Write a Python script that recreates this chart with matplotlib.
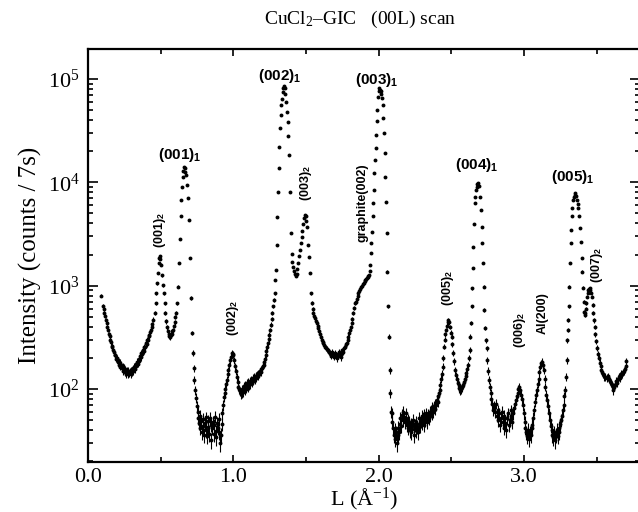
""" CuCl2-GIC (00L) scan: intensity vs L on a log scale. """

import numpy as np
import matplotlib
matplotlib.use("Agg")
import matplotlib.pyplot as plt
from matplotlib.ticker import MultipleLocator, FixedLocator, FormatStrFormatter, LogLocator

# --- scan data (L in 1/A, counts per 7 s) ---
L_start = [0.092, 0.103, 0.108, 0.113, 0.118, 0.123, 0.128, 0.133, 0.138, 0.143, 0.148, 0.153, 0.158, 0.163,
           0.168, 0.173, 0.178, 0.183, 0.188, 0.193, 0.198, 0.203, 0.208, 0.213, 0.218, 0.223, 0.228, 0.233,
           0.238, 0.243, 0.248, 0.253, 0.258, 0.263, 0.268, 0.273, 0.278, 0.283, 0.288, 0.293, 0.298, 0.303,
           0.308, 0.313, 0.318, 0.323, 0.328, 0.333, 0.338, 0.343, 0.348, 0.353, 0.358, 0.363, 0.368, 0.373,
           0.378, 0.383, 0.388, 0.393, 0.398, 0.403, 0.408, 0.413, 0.418, 0.423, 0.428, 0.433, 0.438, 0.443]
I_start = [800, 640, 590, 548, 505, 462, 432, 398, 372, 338, 322, 296, 282, 262, 252, 236, 230, 214, 212, 196,
           198, 184, 190, 172, 180, 164, 172, 158, 166, 150, 160, 146, 156, 140, 152, 138, 150, 142, 148, 139,
           152, 146, 158, 150, 164, 156, 174, 166, 184, 176, 196, 188, 208, 202, 222, 218, 238, 232, 256, 252,
           276, 272, 298, 300, 322, 332, 356, 372, 398, 425]

L_001 = [0.450, 0.459, 0.465, 0.470, 0.476, 0.482, 0.486, 0.490, 0.494, 0.498, 0.503, 0.509, 0.515, 0.521,
         0.527, 0.533, 0.539, 0.545, 0.550, 0.555, 0.560, 0.565, 0.570, 0.575, 0.580, 0.585, 0.590, 0.596,
         0.602, 0.608, 0.614, 0.619, 0.624, 0.631, 0.638, 0.642, 0.647, 0.652, 0.657, 0.661, 0.665, 0.670,
         0.677, 0.683, 0.690, 0.697, 0.703, 0.709, 0.715, 0.721, 0.726, 0.732, 0.738, 0.744]
I_001 = [470, 540, 675, 845, 1050, 1320, 1650, 1850, 1920, 1820, 1600, 1260, 1010, 845, 675, 540, 450, 395,
         360, 340, 325, 318, 335, 342, 360, 372, 405, 440, 495, 540, 675, 980, 1650, 2800, 4670, 6750, 9100,
         11300, 13000, 14100, 13600, 12500, 11700, 9440, 7040, 4270, 1840, 760, 348, 221, 158, 122, 98, 82]

L_floor1 = [0.749, 0.754, 0.759, 0.764, 0.769, 0.774, 0.779, 0.784, 0.789, 0.794, 0.799, 0.804, 0.809, 0.814,
            0.819, 0.824, 0.829, 0.834, 0.839, 0.844, 0.849, 0.854, 0.859, 0.864, 0.869, 0.874, 0.879, 0.884,
            0.889, 0.894, 0.899, 0.904, 0.909, 0.914, 0.919, 0.924, 0.929, 0.934]
I_floor1 = [68, 60, 52, 47, 55, 42, 49, 38, 51, 44, 36, 47, 53, 40, 35, 49, 43, 37, 52, 45, 32, 42, 48, 37,
            45, 54, 39, 34, 47, 42, 51, 38, 30, 36, 46, 58, 70, 84]

L_002 = [0.940, 0.945, 0.950, 0.955, 0.960, 0.966, 0.972, 0.977, 0.983, 0.989, 0.995, 1.000, 1.006, 1.012,
         1.018, 1.023, 1.029, 1.034, 1.040, 1.046, 1.052, 1.058,
         1.063, 1.068, 1.073, 1.078, 1.083, 1.088, 1.093, 1.098, 1.103, 1.108, 1.113, 1.118, 1.123, 1.128,
         1.133, 1.138, 1.143, 1.148, 1.153, 1.158, 1.163, 1.168, 1.173, 1.178, 1.183, 1.188, 1.193, 1.198,
         1.203, 1.208, 1.213, 1.218, 1.223, 1.228, 1.233, 1.238, 1.243, 1.248, 1.253, 1.258, 1.263, 1.268,
         1.273, 1.278]
I_002 = [92, 100, 112, 122, 138, 152, 170, 190, 206, 221, 216, 213, 190, 165, 148, 131, 118, 105, 99, 95, 90,
         92,
         100, 94, 106, 98, 110, 101, 114, 104, 117, 108, 120, 111, 123, 115, 127, 119, 131, 124, 134, 128,
         138, 133, 142, 138, 148, 146, 156, 158, 168, 172, 184, 196, 215, 232, 254, 276, 302, 335, 372, 420,
         478, 545, 630, 725]

L_peak2 = [1.284, 1.289, 1.294, 1.299, 1.303, 1.308, 1.312, 1.316, 1.320, 1.325, 1.330, 1.335, 1.340, 1.345,
           1.349, 1.353, 1.358, 1.363, 1.368, 1.373, 1.379, 1.385, 1.390, 1.395, 1.401, 1.407, 1.413, 1.419,
           1.425, 1.430, 1.436, 1.441, 1.447, 1.453, 1.459, 1.464, 1.470, 1.476, 1.482, 1.487, 1.492, 1.497,
           1.503, 1.509, 1.516, 1.523, 1.528, 1.533, 1.539, 1.545]
I_peak2 = [844, 1135, 1415, 2460, 4660, 8100, 13700, 22200, 33400, 45000, 56000, 64000, 74000, 82000, 86000,
           82000, 72000, 60000, 48000, 38000, 28000, 18400, 8100, 3210, 2040, 1700, 1520, 1380, 1290, 1250,
           1290, 1450, 1650, 1950, 2230, 2600, 2960, 3400, 3980, 4500, 4850, 4700, 4200, 3720, 2460, 1910,
           1320, 844, 676, 590]

L_valley = [1.550, 1.556, 1.562, 1.568, 1.574, 1.580, 1.585, 1.591, 1.597, 1.603, 1.608, 1.614, 1.620, 1.626,
            1.631, 1.637, 1.643, 1.649, 1.655, 1.660, 1.666, 1.672, 1.677, 1.683, 1.688, 1.694, 1.700, 1.705,
            1.711, 1.717, 1.722, 1.728, 1.734, 1.740, 1.745, 1.751, 1.757, 1.763, 1.769, 1.775, 1.781, 1.786,
            1.792, 1.797, 1.803, 1.809, 1.815, 1.820, 1.826, 1.832, 1.838]
I_valley = [540, 510, 484, 455, 432, 408, 386, 362, 340, 318, 297, 286, 277, 265, 257, 250, 244, 236, 230, 226,
            222, 210, 228, 214, 220, 205, 224, 212, 198, 218, 208, 226, 214, 202, 222, 236, 228, 248, 257, 270,
            277, 300, 320, 345, 372, 400, 432, 480, 540, 610, 676]

L_peak3 = [1.843, 1.849, 1.855, 1.861, 1.867, 1.873, 1.879, 1.885, 1.891, 1.897, 1.903, 1.909, 1.915, 1.921,
           1.926, 1.930, 1.934, 1.938, 1.942, 1.946, 1.950, 1.954, 1.958, 1.963, 1.967, 1.971, 1.975, 1.979,
           1.983, 1.987, 1.992, 1.996, 2.000, 2.004, 2.008, 2.013, 2.018, 2.023, 2.028, 2.032, 2.037, 2.041,
           2.046, 2.050, 2.055, 2.060, 2.065, 2.070, 2.075, 2.080, 2.085]
I_peak3 = [700, 740, 790, 840, 880, 920, 960, 1000, 1040, 1070, 1100, 1130, 1160, 1190, 1210, 1230, 1260,
           1380, 1590, 2050, 2570, 3330, 4670, 6300, 8500, 12300, 16500, 21500, 28800, 38800, 50300, 67500,
           76000, 81000, 79000, 76000, 72000, 66000, 56000, 41600, 29900, 19100, 11350, 6500, 3200, 1365, 630,
           321, 152, 91, 60]

L_floor2 = [2.090, 2.095, 2.100, 2.105, 2.110, 2.115, 2.120, 2.125, 2.130, 2.135, 2.140, 2.145, 2.150, 2.155,
            2.160, 2.165, 2.170, 2.175, 2.180, 2.185, 2.190, 2.195, 2.200, 2.205, 2.210, 2.215, 2.220, 2.225,
            2.230, 2.235, 2.240, 2.245, 2.250, 2.255, 2.260, 2.265, 2.270, 2.275, 2.280, 2.285, 2.290, 2.295,
            2.300, 2.305, 2.310, 2.315, 2.320, 2.325, 2.330, 2.335, 2.340, 2.345, 2.350, 2.355, 2.360, 2.365,
            2.370, 2.375, 2.380, 2.385, 2.390, 2.395, 2.400, 2.405, 2.410, 2.415, 2.420]
I_floor2 = [58, 48, 42, 36, 40, 33, 38, 30, 36, 42, 38, 46, 52, 44, 56, 50, 60, 54, 48, 58, 52, 45, 50, 42, 48,
            40, 46, 38, 44, 50, 41, 36, 45, 40, 48, 43, 38, 46, 52, 44, 49, 55, 47, 52, 45, 56, 50, 58, 53, 48,
            57, 52, 60, 55, 62, 58, 66, 60, 68, 64, 72, 70, 78, 75, 85, 92, 98]

L_peak4 = [2.425, 2.430, 2.435, 2.440, 2.445, 2.450, 2.455, 2.460, 2.465, 2.470, 2.475, 2.480, 2.485, 2.490,
           2.496, 2.502, 2.508, 2.514, 2.520, 2.526, 2.532, 2.538, 2.544, 2.550, 2.556, 2.562, 2.568, 2.574,
           2.580, 2.586, 2.592, 2.598, 2.604, 2.610, 2.616, 2.622, 2.627, 2.631, 2.636, 2.641, 2.645, 2.648,
           2.652, 2.656, 2.660, 2.665, 2.670, 2.675, 2.680, 2.686, 2.692, 2.698, 2.703, 2.708, 2.713, 2.718,
           2.723, 2.728, 2.733, 2.738, 2.743, 2.748, 2.753, 2.758, 2.764, 2.770, 2.776, 2.782, 2.788]
I_peak4 = [110, 125, 140, 164, 200, 257, 300, 340, 372, 410, 440, 465, 440, 400, 350, 321, 270, 221, 185, 152,
           135, 125, 115, 108, 102, 98, 100, 104, 110, 116, 124, 132, 142, 155, 170, 200, 239, 321, 432, 630,
           945, 1480, 2390, 3990, 6300, 7250, 8500, 9100, 9600, 9800, 9300, 7250, 5400, 3710, 2570, 1650, 980,
           582, 390, 296, 247, 190, 150, 122, 105, 91, 80, 72, 63]

L_floor3 = [2.794, 2.800, 2.806, 2.812, 2.818, 2.824, 2.830, 2.836, 2.842, 2.848, 2.854, 2.860, 2.866, 2.872,
            2.878, 2.884, 2.890, 2.896, 2.902, 2.908, 2.914, 2.920, 2.926, 2.932, 2.938, 2.944, 2.950, 2.956,
            2.962, 2.968, 2.974, 2.980, 2.986, 2.992, 2.998, 3.004, 3.010, 3.016, 3.022, 3.028, 3.034, 3.040,
            3.046, 3.052, 3.058, 3.064, 3.070, 3.076, 3.082, 3.088, 3.094, 3.100, 3.106, 3.112, 3.118, 3.124,
            3.130, 3.136, 3.142, 3.148, 3.154, 3.160, 3.166, 3.172, 3.178, 3.184, 3.190, 3.196, 3.202, 3.208,
            3.214, 3.220, 3.226, 3.232, 3.238, 3.244, 3.250, 3.256, 3.262, 3.268, 3.274, 3.278, 3.283, 3.288,
            3.294]
I_floor3 = [68, 60, 72, 55, 62, 50, 58, 45, 52, 60, 48, 42, 55, 47, 40, 52, 58, 45, 50, 62, 55, 48, 58, 65, 72,
            78, 85, 92, 100, 105, 98, 88, 80, 70, 58, 48, 42, 38, 35, 40, 33, 38, 36, 42, 45, 52, 62, 75, 88, 98,
            112, 125, 145, 164, 178, 184, 170, 152, 125, 105, 88, 78, 68, 58, 50, 44, 40, 36, 34, 38, 32, 36,
            40, 35, 38, 42, 46, 50, 55, 62, 70, 85, 98, 130, 190]

L_peak5 = [3.298, 3.302, 3.306, 3.310, 3.313, 3.317, 3.322, 3.325, 3.329, 3.333, 3.337, 3.342, 3.348, 3.354,
           3.358, 3.363, 3.369, 3.375, 3.381, 3.387, 3.392, 3.397, 3.402, 3.406, 3.410, 3.414, 3.418, 3.422,
           3.426, 3.430, 3.434, 3.438, 3.442, 3.447, 3.452, 3.457, 3.462, 3.467, 3.472, 3.477, 3.482, 3.487,
           3.492, 3.497, 3.503, 3.509, 3.515, 3.521, 3.527, 3.533, 3.540, 3.547, 3.554, 3.561, 3.568, 3.575,
           3.582, 3.589, 3.596, 3.603, 3.610, 3.616, 3.622, 3.628, 3.634, 3.640, 3.646, 3.652, 3.658, 3.664,
           3.670, 3.676, 3.682, 3.688, 3.694, 3.700, 3.705]
I_peak5 = [296, 372, 465, 630, 980, 1650, 2570, 3470, 4670, 5640, 6750, 7200, 7600, 7800, 7400, 6750, 6200,
           5640, 4670, 3600, 2670, 1840, 1365, 950, 700, 560, 520, 540, 600, 680, 780, 850, 900, 930, 945, 910,
           850, 780, 650, 540, 460, 400, 340, 290, 250, 220, 200, 180, 165, 152, 145, 138, 132, 130, 128, 132,
           125, 120, 115, 110, 105, 98, 105, 110, 120, 115, 125, 130, 128, 135, 140, 138, 145, 150, 155, 165,
           185]

# peak labels: (text, L, intensity, rotation)
peak_labels = [
    (r"(001)$_\mathsf{1}$", 0.633, 18400, 0),
    (r"(002)$_\mathsf{1}$", 1.321, 107000, 0),
    (r"(003)$_\mathsf{1}$", 1.989, 98000, 0),
    (r"(004)$_\mathsf{1}$", 2.677, 14800, 0),
    (r"(005)$_\mathsf{1}$", 3.338, 11200, 0),
    (r"(001)$_\mathsf{2}$", 0.496, 3460, 90),
    (r"(002)$_\mathsf{2}$", 0.998, 487, 90),
    (r"(003)$_\mathsf{2}$", 1.500, 9860, 90),
    ("graphite(002)", 1.886, 6300, 90),
    (r"(005)$_\mathsf{2}$", 2.478, 955, 90),
    (r"(006)$_\mathsf{2}$", 2.973, 372, 90),
    ("Al(200)", 3.131, 545, 90),
    (r"(007)$_\mathsf{2}$", 3.503, 1590, 90),
]


def main():
    plt.rcParams['font.family'] = 'serif'
    plt.rcParams['font.serif'] = ['Liberation Serif']
    plt.rcParams['mathtext.fontset'] = 'custom'
    plt.rcParams['mathtext.rm'] = 'Liberation Serif'
    plt.rcParams['mathtext.it'] = 'Liberation Serif:italic'
    plt.rcParams['mathtext.bf'] = 'Liberation Serif:bold'
    plt.rcParams['mathtext.sf'] = 'Liberation Sans:bold'

    L = np.concatenate([L_start, L_001, L_floor1, L_002, L_peak2, L_valley,
                        L_peak3, L_floor2, L_peak4, L_floor3, L_peak5])
    counts = np.concatenate([I_start, I_001, I_floor1, I_002, I_peak2, I_valley,
                             I_peak3, I_floor2, I_peak4, I_floor3, I_peak5]).astype(float)

    fig = plt.figure(figsize=(6.38, 5.12), dpi=100)
    ax = fig.add_axes([88 / 638, 50 / 512, (639.5 - 88) / 638, 413 / 512])

    ax.errorbar(L, counts, yerr=np.sqrt(counts), fmt='o', ms=2.8, color='black',
                ecolor='black', elinewidth=0.8, capsize=0, mew=0)

    ax.set_yscale('log')
    ax.set_xlim(0, 3.795)
    ax.set_ylim(10 ** 1.293, 10 ** 5.29)

    ax.xaxis.set_major_locator(FixedLocator([0, 1, 2, 3]))
    ax.xaxis.set_major_formatter(FormatStrFormatter('%.1f'))
    ax.xaxis.set_minor_locator(MultipleLocator(0.5))
    ax.yaxis.set_major_locator(LogLocator(base=10))
    ax.yaxis.set_minor_locator(LogLocator(base=10, subs=np.arange(2, 10)))

    ax.tick_params(which='both', direction='in', top=True, right=True, width=1.2, labelsize=16)
    ax.tick_params(which='major', length=7, pad=6)
    ax.tick_params(which='minor', length=3.5)
    ax.tick_params(axis='x', which='major', length=5, pad=4)
    for sp in ax.spines.values():
        sp.set_linewidth(1.6)

    ax.set_ylabel("Intensity (counts / 7s)", fontsize=18, labelpad=4)
    # x label placed by hand so it sits inside the 512 px canvas like the original
    fig.text((88 + 639.5) / 2 / 638, 0.024, r"L (Å$^{-1}$)", ha='center', va='center', fontsize=16)
    fig.text(0.565, 0.963, r"CuCl$_2$–GIC   (00L) scan", ha='center', va='center', fontsize=14)

    for text, x, y, rot in peak_labels:
        size = 11 if rot == 0 else 9
        ax.text(x, y, text, ha='center', va='center', rotation=rot, fontsize=size,
                family='Liberation Sans', weight='bold')

    fig.savefig("out.png", dpi=100)


if __name__ == "__main__":
    main()
